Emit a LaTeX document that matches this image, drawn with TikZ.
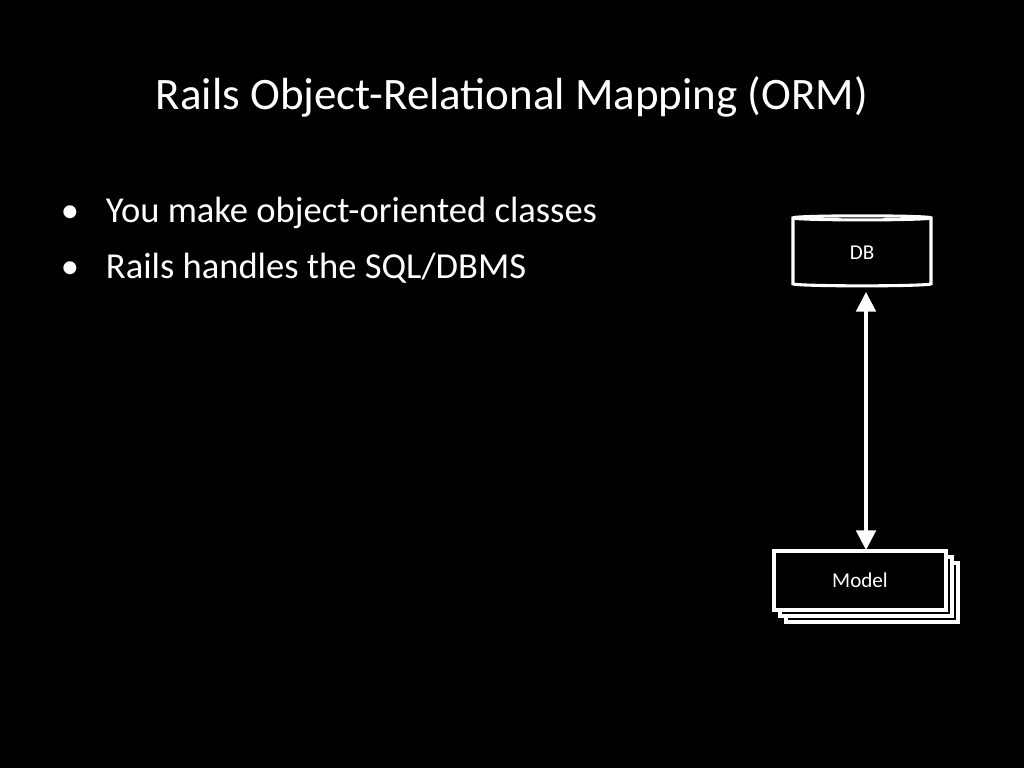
\documentclass[tikz,border=0pt]{standalone}
\usepackage{fontspec}
\setmainfont{Carlito}
\usetikzlibrary{positioning, shapes.geometric, arrows.meta}
\tikzset{>={Triangle[width=14pt,length=14pt]}}

\begin{document}
\begin{tikzpicture}[x=0.025cm, y=-0.025cm, every node/.style={text=white}]
    \fill[black] (0,0) rectangle (1024,768);
    \useasboundingbox (0,0) rectangle (1024,768);

    \node[font=\fontsize{32}{38}\selectfont] (title) at (512,97) {Rails Object-Relational Mapping (ORM)};
    \node[font=\fontsize{26}{31}\selectfont, anchor=base west] (b1) at (101,222) {You make object-oriented classes};
    \node[font=\fontsize{26}{31}\selectfont, anchor=base west] (b2) at (101,278) {Rails handles the SQL/DBMS};
    \node[font=\fontsize{26}{31}\selectfont, anchor=base east] (d1) at (84,222) {•};
    \node[font=\fontsize{26}{31}\selectfont, anchor=base east] (d2) at (84,278) {•};

    \node[draw=white, line width=2.2pt, fill=black, cylinder, shape border rotate=90, aspect=0.12, minimum width=3.45cm, minimum height=1.75cm, font=\fontsize{15}{18}\selectfont] (db) at (862,253) {DB};

    \node[draw=white, line width=2.2pt, fill=black, minimum width=4.3cm, minimum height=1.475cm] (m3) at (872,592.5) {};
    \node[draw=white, line width=2.2pt, fill=black, minimum width=4.3cm, minimum height=1.475cm] (m2) at (866,586.5) {};
    \node[draw=white, line width=2.2pt, fill=black, minimum width=4.3cm, minimum height=1.475cm, font=\fontsize{15}{18}\selectfont] (model) at (860,580.5) {Model};

    \draw[<->, white, line width=2.2pt] (866,292) -- (866,550);
\end{tikzpicture}
\end{document}
